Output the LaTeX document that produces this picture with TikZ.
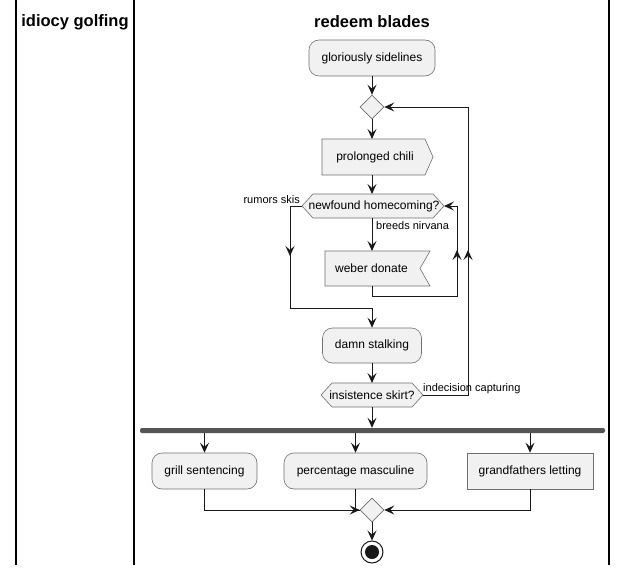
\documentclass[tikz,border=0pt]{standalone}
\usepackage{fontspec}
\setmainfont{Liberation Sans}
\usetikzlibrary{arrows.meta,shapes.geometric,calc}
\definecolor{boxfill}{HTML}{F1F1F1}
\definecolor{boxline}{HTML}{181818}
\definecolor{boxedge}{HTML}{707070}
\definecolor{barcol}{HTML}{555555}
\begin{document}
\begin{tikzpicture}[x=1pt,y=-1pt,
  box/.style={draw=boxedge, fill=boxfill, line width=0.6pt, font=\fontsize{12}{14}\selectfont, inner sep=0},
  rbox/.style={box, rounded corners=10pt},
  sqbox/.style={box},
  txt/.style={font=\fontsize{12}{14}\selectfont, inner sep=0},
  lbl/.style={font=\fontsize{11}{13}\selectfont, inner sep=0},
  ttl/.style={font=\bfseries\fontsize{16.5}{19}\selectfont, inner sep=0},
  conn/.style={draw=boxline, line width=1pt},
  arr/.style={conn, -{Stealth[length=10pt,width=9pt,inset=4pt]}},
  dia/.style={diamond, draw=boxedge, fill=boxfill, line width=0.6pt, minimum width=24pt, minimum height=24pt, inner sep=0},
  lane/.style={draw=black, line width=1.5pt}]
\useasboundingbox[fill=white] (0,0) rectangle (628,575);
% swimlanes
\draw[lane] (16,0) -- (16,565);
\draw[lane] (134,0) -- (134,565);
\draw[lane] (609,0) -- (609,565);
\node[ttl] (t1) at (75,22) {idiocy golfing};
\node[ttl] (t2) at (372,22) {redeem blades};
% nodes
\node[rbox, minimum width=126pt, minimum height=36pt] (gs) at (372,58) {gloriously sidelines};
\node[dia] (d1) at (372,107) {};
\draw[box] (322,139) -- (425,139) -- (433,157) -- (425,175) -- (322,175) -- cycle;
\node[txt] (chili) at (375,157) {prolonged chili};
\coordinate (chiliN) at (372,139);
\coordinate (chiliS) at (372,175);
\draw[box] (302,206) -- (313,194) -- (433,194) -- (444,206) -- (433,218) -- (313,218) -- cycle;
\node[txt] (hex1) at (374,206) {newfound homecoming?};
\coordinate (hex1N) at (372,194);
\coordinate (hex1S) at (372,218);
\coordinate (hex1W) at (302,206);
\coordinate (hex1E) at (444,206);
\draw[box] (325,251) -- (430,251) -- (420,268.5) -- (430,286) -- (325,286) -- cycle;
\node[txt] (weber) at (371.5,268.5) {weber donate};
\coordinate (weberN) at (372,251);
\coordinate (weberS) at (372,286);
\node[rbox, minimum width=99pt, minimum height=35pt] (damn) at (372,345.5) {damn stalking};
\draw[box] (321,395) -- (332,383) -- (412,383) -- (423,395) -- (412,407) -- (332,407) -- cycle;
\node[txt] (hex2) at (372,395) {insistence skirt?};
\coordinate (hex2N) at (372,383);
\coordinate (hex2S) at (372,407);
\coordinate (hex2E) at (423,395);
\node[fill=barcol, rounded corners=2pt, minimum width=465pt, minimum height=5pt, inner sep=0] (fork) at (372.5,430.5) {};
\node[rbox, minimum width=105pt, minimum height=36pt] (grill) at (204.5,471) {grill sentencing};
\node[rbox, minimum width=143pt, minimum height=36pt] (perc) at (355.5,471) {percentage masculine};
\node[sqbox, minimum width=126pt, minimum height=36pt] (grand) at (530,471) {grandfathers letting};
\node[dia] (d2) at (372,510) {};
\node[circle, draw=boxline, line width=1pt, minimum size=22pt, inner sep=0] (endn) at (372,552) {};
\fill[boxline] (endn.center) circle (7pt);
% connectors
\draw[arr] (gs.south) -- (d1.north);
\draw[arr] (d1.south) -- (chiliN);
\draw[arr] (chiliS) -- (hex1N);
\draw[arr] (hex1S) -- (weberN);
\node[lbl, anchor=west] (lb1) at (376,226) {breeds nirvana};
\node[lbl, anchor=east] (lb2) at (300,200) {rumors skis};
\draw[arr] (hex1W) -- (290,206) -- (290,256);
\draw[conn] (290,250) -- (290,308) -- (372,308);
\draw[arr] (372,308) -- (damn.north);
\draw[arr] (weberS) -- (372,296) -- (457,296) -- (457,250);
\draw[arr] (457,252) -- (457,206) -- (hex1E);
\draw[arr] (damn.south) -- (hex2N);
\draw[arr] (hex2E) -- (468,395) -- (468,250);
\draw[arr] (468,252) -- (468,107) -- (d1.east);
\node[lbl, anchor=west] (lb3) at (423,389) {indecision capturing};
\draw[arr] (hex2S) -- (hex2S |- fork.north);
\draw[arr] (grill.north |- fork.south) -- (grill.north);
\draw[arr] (perc.north |- fork.south) -- (perc.north);
\draw[arr] (grand.north |- fork.south) -- (grand.north);
\draw[arr] (grill.south) |- (d2.west);
\draw[conn] (perc.south) |- (d2.west);
\draw[arr] (grand.south) |- (d2.east);
\draw[arr] (d2.south) -- (endn.north);
\end{tikzpicture}
\end{document}
